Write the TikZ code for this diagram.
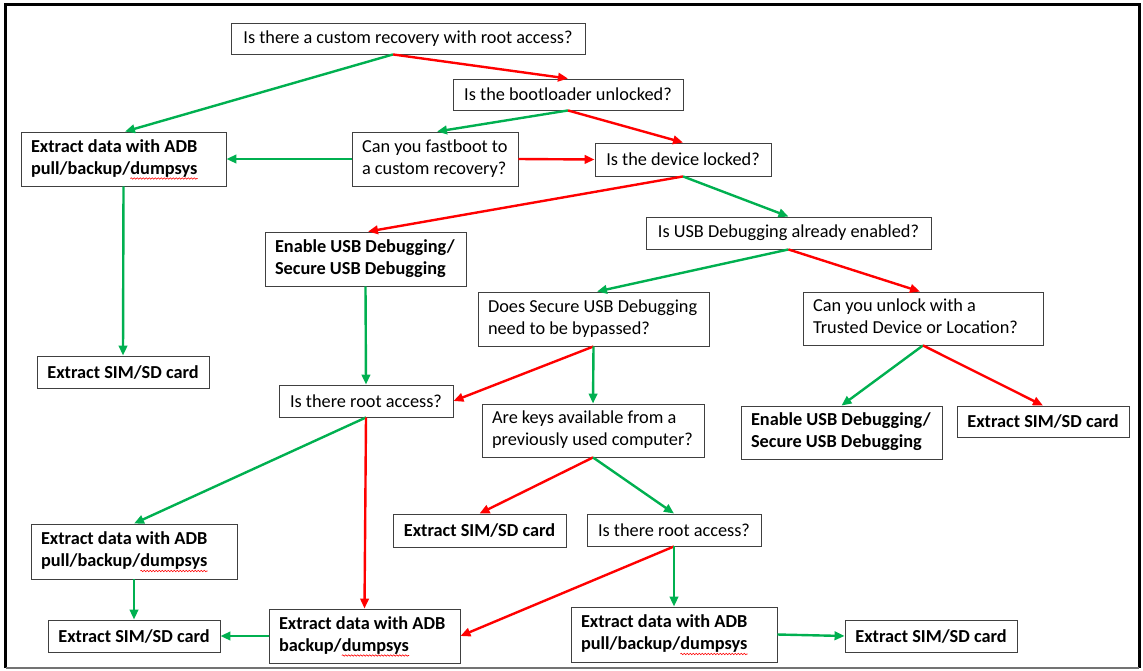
\documentclass[tikz,border=0pt]{standalone}
\usepackage{fontspec}
\setmainfont{Carlito}
\usetikzlibrary{arrows.meta,decorations.pathmorphing}
\definecolor{yesgreen}{RGB}{0,176,80}
\definecolor{nored}{RGB}{255,0,0}
% word with a red wavy underline
\newcommand\spellmark[1]{\tikz[baseline=(w.base)]{\node[draw=none,fill=none,minimum width=0pt,minimum height=0pt,inner sep=0pt,outer sep=0pt](w){#1};\draw[nored,line width=0.6pt,decorate,decoration={snake,amplitude=0.7pt,segment length=3pt}]([yshift=-1.2pt]w.south west)--([yshift=-1.2pt]w.south east);}}
% two lines set flush left in a block of width \linew
\newcommand\twolines[2]{\makebox[\linew pt][l]{\begin{tabular}{@{}l@{}}#1\\#2\end{tabular}}}
\begin{document}
\begin{tikzpicture}[x=1pt,y=-1pt,
  box/.style={draw=black!75,line width=0.9pt,fill=white,inner sep=0pt,
              font=\fontsize{18.3}{22}\selectfont},
  act/.style={box,font=\fontsize{18.3}{22}\selectfont\bfseries},
  % one-line box: width and height
  dim/.style 2 args={minimum width=#1pt,minimum height=#2pt},
  % two-line box: text 10pt in from the left side
  two/.style 2 args={minimum width=#1pt,minimum height=#2pt,
              /utils/exec={\pgfmathsetmacro\linew{#1-20}}},
  yes/.style={draw=yesgreen,line width=2.4pt,-{Triangle[length=10pt,width=8.5pt]}},
  no/.style={yes,draw=nored}]
\useasboundingbox (0,0) rectangle (1143,670);
% frame
\draw[line width=3pt] (5.5,668) -- (5.5,4) -- (1139,4) -- (1139,668);
\draw[black!55,line width=1.5pt] (5.5,668) -- (1139,668);

% questions and actions
\node[box,dim={354}{31}] (q1) at (408,38.5) {Is there a custom recovery with root access?};
\node[box,dim={230}{31}] (q2) at (568,94.5) {Is the bootloader unlocked?};
\node[box,two={166}{54}] (q3) at (435,159) {\twolines{Can you fastboot to}{a custom recovery?}};
\node[act,two={205}{54}] (a1) at (123.5,159) {\twolines{Extract data with ADB}{pull/backup/\spellmark{dumpsys}}};
\node[box,dim={176}{33}] (q4) at (683,159.5) {Is the device locked?};
\node[box,dim={285}{32}] (q5) at (788.5,233) {Is USB Debugging already enabled?};
\node[act,two={201}{54}] (e1) at (365.5,259) {\twolines{Enable USB Debugging/}{Secure USB Debugging}};
\node[box,two={231}{54}] (q6) at (593.5,319) {\twolines{Does Secure USB Debugging}{need to be bypassed?}};
\node[box,two={240}{53}] (q7) at (923,318.5) {\twolines{Can you unlock with a}{Trusted Device or Location?}};
\node[act,dim={172}{32}] (a2) at (123,372) {Extract SIM/SD card};
\node[box,dim={174}{32}] (q8) at (366,401) {Is there root access?};
\node[box,two={222}{53}] (q9) at (593,430.5) {\twolines{Are keys available from a}{previously used computer?}};
\node[act,two={201}{53}] (e2) at (841.5,432.5) {\twolines{Enable USB Debugging/}{Secure USB Debugging}};
\node[act,dim={172}{31}] (a3) at (1043,421.5) {Extract SIM/SD card};
\node[act,two={206}{55}] (a4) at (134,551.5) {\twolines{Extract data with ADB}{pull/backup/\spellmark{dumpsys}}};
\node[act,dim={173}{33}] (a5) at (479.5,530.5) {Extract SIM/SD card};
\node[box,dim={174}{32}] (q10) at (674,530) {Is there root access?};
\node[act,two={206}{55}] (a6) at (674,634.5) {\twolines{Extract data with ADB}{pull/backup/\spellmark{dumpsys}}};
\node[act,dim={172}{32}] (a7) at (931,636) {Extract SIM/SD card};
\node[act,dim={172}{32}] (a8) at (134,636) {Extract SIM/SD card};
\node[act,two={191}{54}] (a9) at (364.5,636) {\twolines{Extract data with ADB}{backup/\spellmark{dumpsys}}};

% connectors: green = yes, red = no
\draw[yes] ([xshift=-15pt]q1.south) -- ([xshift=1.5pt]a1.north);
\draw[no]  ([xshift=-15pt]q1.south) -- (q2.north);
\draw[yes] (q2.south) -- ([xshift=2pt]q3.north);
\draw[no]  (q2.south) -- (q4.north);
\draw[yes] (q3.west) -- (a1.east);
\draw[no]  (q3.east) -- (q4.west);
\draw[yes] (a1.south) -- (a2.north);
\draw[no]  (q4.south) -- ([xshift=2.5pt]e1.north);
\draw[yes] (q4.south) -- (q5.north);
\draw[yes] (q5.south) -- ([xshift=3.5pt]q6.north);
\draw[no]  (q5.south) -- ([xshift=-3pt]q7.north);
\draw[yes] (e1.south) -- (q8.north);
\draw[no]  (q6.south) -- (q8.east);
\draw[yes] (q6.south) -- (q9.north);
\draw[yes] (q7.south) -- (e2.north);
\draw[no]  (q7.south) -- (a3.north);
\draw[yes] (q8.south) -- (a4.north);
\draw[no]  (q8.south) -- (a9.north);
\draw[no]  (q9.south) -- (a5.north);
\draw[yes] (q9.south) -- (q10.north);
\draw[yes] (a4.south) -- (a8.north);
\draw[yes] (a9.west) -- (a8.east);
\draw[no]  (q10.south) -- (a9.east);
\draw[yes] (q10.south) -- (a6.north);
\draw[yes] (a6.east) -- (a7.west);
\end{tikzpicture}
\end{document}
